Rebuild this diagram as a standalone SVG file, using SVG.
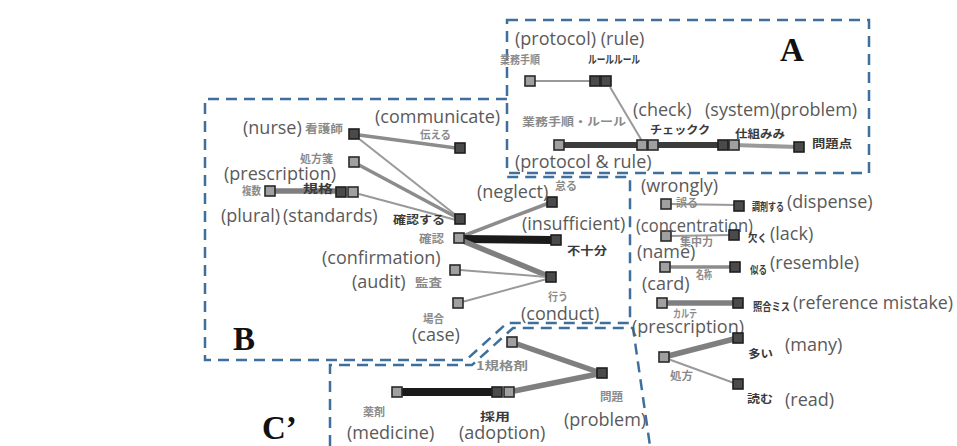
<svg xmlns="http://www.w3.org/2000/svg" width="957" height="446" viewBox="0 0 957 446">
<style>
.box{fill:none;stroke:#3f6f9d;stroke-width:2.5;stroke-dasharray:11 7}
.en{font-family:"Open Sans","Noto Sans",sans-serif;font-size:18px;fill:#5a5a5a}
.jp{font-family:"Noto Sans CJK JP",sans-serif;font-size:11px;font-weight:bold;fill:#8a8a8a}
.jpd{font-family:"Noto Sans CJK JP",sans-serif;font-size:11px;font-weight:bold;fill:#3a3a3a}
.big{font-family:"Liberation Serif",serif;font-size:33px;font-weight:bold;fill:#111}
.nl{fill:#a0a0a0;stroke:#2a2a2a;stroke-width:1.6}
.nd{fill:#4a4a4a;stroke:#1e1e1e;stroke-width:1.6}
.e1{stroke:#999;stroke-width:2;fill:none}
.e2{stroke:#8c8c8c;stroke-width:3.5;fill:none}
.e3{stroke:#7f7f7f;stroke-width:5.5;fill:none}
.eb{stroke:#1a1a1a;stroke-width:8;fill:none}
.ea{stroke:#3c3c3c;stroke-width:6;fill:none}
</style>
<rect width="957" height="446" fill="#fff"/>
<g id="regions">
<rect class="box" x="507" y="20" width="362" height="153"/>
<path class="box" d="M507,99 H205 V360 H466 L507,323 H630 V177 H507"/>
<path class="box" d="M330,446 V365 H472 L513,328 H633 L650,446"/>
<text class="big" x="780" y="61">A</text>
<text class="big" x="233" y="350">B</text>
<text class="big" x="262" y="439">C’</text>
</g>
<g id="connectors">
<line class="e1" x1="535" y1="81" x2="591" y2="81"/>
<line class="e1" x1="610" y1="87" x2="642" y2="141"/>
<line class="ea" x1="559" y1="145" x2="734" y2="145"/>
<line stroke="#9a9a9a" stroke-width="4" x1="734" y1="145" x2="798" y2="147"/>
<line class="e2" x1="359" y1="135" x2="456" y2="148"/>
<line class="e1" x1="358" y1="138" x2="457" y2="216"/>
<line class="e2" x1="359" y1="165" x2="456" y2="217"/>
<line class="e3" x1="275" y1="191" x2="337" y2="191"/>
<line class="e1" x1="359" y1="194" x2="456" y2="220"/>
<line class="e2" x1="463" y1="236" x2="549" y2="203"/>
<line class="eb" x1="463" y1="239" x2="552" y2="240"/>
<line class="e3" x1="463" y1="241" x2="548" y2="276"/>
<line class="e1" x1="460" y1="270" x2="547" y2="277"/>
<line class="e1" x1="462" y1="302" x2="547" y2="279"/>
<line class="e3" x1="517" y1="344" x2="598" y2="372"/>
<line class="eb" x1="400" y1="392" x2="494" y2="392"/>
<line class="e3" x1="514" y1="391" x2="598" y2="374"/>
<line class="e1" x1="670" y1="204" x2="736" y2="205"/>
<line class="e1" x1="670" y1="236" x2="731" y2="235"/>
<line class="e2" x1="669" y1="267" x2="731" y2="267"/>
<line class="e3" x1="667" y1="303" x2="734" y2="303"/>
<line class="e3" x1="668" y1="356" x2="734" y2="339"/>
<line class="e1" x1="668" y1="359" x2="734" y2="383"/>
</g>
<g id="n-gyomu"><rect class="nl" x="525" y="76" width="10" height="10"/><text class="jp" x="500" y="64" textLength="40" lengthAdjust="spacingAndGlyphs">業務手順</text></g>
<g id="n-rule"><rect class="nd" x="590" y="76" width="10" height="10"/><rect class="nd" x="601" y="76" width="10" height="10"/><text class="jpd" x="588" y="64" textLength="52" lengthAdjust="spacingAndGlyphs">ルールルール</text></g>
<g id="n-gyomurule"><rect class="nl" x="554" y="140" width="10" height="10"/><text class="jp" x="522" y="126" textLength="104" lengthAdjust="spacingAndGlyphs">業務手順・ルール</text></g>
<g id="n-check"><rect class="nl" x="637" y="140" width="10" height="10"/><rect class="nl" x="648" y="140" width="10" height="10"/><text class="jpd" x="650" y="134" textLength="60" lengthAdjust="spacingAndGlyphs">チェックク</text></g>
<g id="n-system"><rect class="nd" x="718" y="140" width="10" height="10"/><rect class="nl" x="729" y="140" width="10" height="10"/><text class="jpd" x="735" y="138" textLength="50" lengthAdjust="spacingAndGlyphs">仕組みみ</text></g>
<g id="n-mondaiten"><rect class="nd" x="794" y="142" width="10" height="10"/><text class="jpd" x="812" y="148" textLength="40" lengthAdjust="spacingAndGlyphs">問題点</text></g>
<g id="lbl-A">
<text class="en" x="515" y="45">(protocol) (rule)</text>
<text class="en" x="633" y="116">(check)</text>
<text class="en" x="705" y="116">(system)(problem)</text>
<text class="en" x="515" y="168">(protocol &amp; rule)</text>
</g>
<g id="n-nurse"><rect class="nd" x="349" y="129" width="10" height="10"/><text class="jp" x="305" y="133" textLength="38" lengthAdjust="spacingAndGlyphs">看護師</text><text class="en" x="243" y="134">(nurse)</text></g>
<g id="n-tsutaeru"><rect class="nd" x="455" y="143" width="10" height="10"/><text class="jp" x="420" y="139" textLength="31" lengthAdjust="spacingAndGlyphs">伝える</text><text class="en" x="375" y="123">(communicate)</text></g>
<g id="n-shohousen"><rect class="nl" x="349" y="157" width="10" height="10"/><text class="jp" x="300" y="163" textLength="33" lengthAdjust="spacingAndGlyphs">処方箋</text><text class="en" x="224" y="180">(prescription)</text></g>
<g id="n-fukusu"><rect class="nl" x="265" y="186" width="10" height="10"/><text class="jp" x="242" y="195" textLength="19" lengthAdjust="spacingAndGlyphs">複数</text><text class="en" x="221" y="222">(plural)</text></g>
<g id="n-kikaku"><rect class="nd" x="336" y="187" width="10" height="10"/><rect class="nl" x="348" y="187" width="10" height="10"/><text class="jpd" x="303" y="193" textLength="30" lengthAdjust="spacingAndGlyphs">規格</text><text class="en" x="283" y="222">(standards)</text></g>
<g id="n-kakuninsuru"><rect class="nd" x="455" y="214" width="10" height="10"/><text class="jpd" x="393" y="224" textLength="52" lengthAdjust="spacingAndGlyphs">確認する</text></g>
<g id="n-kakunin"><rect class="nl" x="454" y="233" width="10" height="10"/><text class="jp" x="419" y="243" textLength="25" lengthAdjust="spacingAndGlyphs">確認</text><text class="en" x="322" y="264">(confirmation)</text></g>
<g id="n-okotaru"><rect class="nd" x="547" y="197" width="10" height="10"/><text class="jp" x="555" y="190" textLength="22" lengthAdjust="spacingAndGlyphs">怠る</text><text class="en" x="477" y="198">(neglect)</text></g>
<g id="n-fujubun"><rect class="nd" x="551" y="235" width="10" height="10"/><text class="jpd" x="567" y="255" textLength="40" lengthAdjust="spacingAndGlyphs">不十分</text><text class="en" x="522" y="230">(insufficient)</text></g>
<g id="n-kansa"><rect class="nl" x="450" y="265" width="10" height="10"/><text class="jp" x="415" y="287" textLength="27" lengthAdjust="spacingAndGlyphs">監査</text><text class="en" x="352" y="288">(audit)</text></g>
<g id="n-baai"><rect class="nl" x="453" y="298" width="10" height="10"/><text class="jp" x="423" y="323" textLength="21" lengthAdjust="spacingAndGlyphs">場合</text><text class="en" x="412" y="341">(case)</text></g>
<g id="n-okonau"><rect class="nd" x="546" y="272" width="10" height="10"/><text class="jp" x="548" y="301" textLength="20" lengthAdjust="spacingAndGlyphs">行う</text><text class="en" x="521" y="320">(conduct)</text></g>
<g id="n-1kikaku"><rect class="nl" x="507" y="337" width="10" height="10"/><text class="jp" x="476" y="370" textLength="52" lengthAdjust="spacingAndGlyphs">1規格剤</text></g>
<g id="n-mondai"><rect class="nd" x="597" y="368" width="10" height="10"/><text class="jp" x="600" y="401" textLength="23" lengthAdjust="spacingAndGlyphs">問題</text><text class="en" x="564" y="426">(problem)</text></g>
<g id="n-yakuzai"><rect class="nl" x="392" y="387" width="10" height="10"/><text class="jp" x="363" y="416" textLength="22" lengthAdjust="spacingAndGlyphs">薬剤</text><text class="en" x="347" y="439">(medicine)</text></g>
<g id="n-saiyou"><rect class="nd" x="492" y="387" width="10" height="10"/><rect class="nl" x="504" y="387" width="10" height="10"/><text class="jpd" x="480" y="421" textLength="30" lengthAdjust="spacingAndGlyphs">採用</text><text class="en" x="459" y="439">(adoption)</text></g>
<g id="n-ayamaru"><rect class="nl" x="661" y="199" width="10" height="10"/><text class="jp" x="676" y="207" textLength="22" lengthAdjust="spacingAndGlyphs">誤る</text><text class="en" x="641" y="192">(wrongly)</text></g>
<g id="n-chouzai"><rect class="nd" x="734" y="201" width="10" height="10"/><text class="jpd" x="752" y="211" textLength="32" lengthAdjust="spacingAndGlyphs">調剤する</text><text class="en" x="787" y="208">(dispense)</text></g>
<g id="n-shuchu"><rect class="nl" x="661" y="231" width="10" height="10"/><text class="jp" x="680" y="246" textLength="33" lengthAdjust="spacingAndGlyphs">集中力</text><text class="en" x="636" y="232" textLength="117" lengthAdjust="spacingAndGlyphs">(concentration)</text></g>
<g id="n-kaku"><rect class="nd" x="729" y="230" width="10" height="10"/><text class="jpd" x="748" y="242" textLength="19" lengthAdjust="spacingAndGlyphs">欠く</text><text class="en" x="770" y="240">(lack)</text></g>
<g id="n-meisho"><rect class="nl" x="660" y="262" width="10" height="10"/><text class="jp" x="696" y="279" textLength="16" lengthAdjust="spacingAndGlyphs">名称</text><text class="en" x="637" y="258">(name)</text></g>
<g id="n-niru"><rect class="nd" x="730" y="262" width="10" height="10"/><text class="jpd" x="750" y="274" textLength="17" lengthAdjust="spacingAndGlyphs">似る</text><text class="en" x="770" y="269">(resemble)</text></g>
<g id="n-karte"><rect class="nl" x="657" y="298" width="10" height="10"/><text class="jp" x="673" y="318" textLength="24" lengthAdjust="spacingAndGlyphs">カルテ</text><text class="en" x="642" y="290">(card)</text></g>
<g id="n-shougou"><rect class="nd" x="733" y="298" width="10" height="10"/><text class="jpd" x="753" y="311" textLength="37" lengthAdjust="spacingAndGlyphs">照合ミス</text><text class="en" x="793" y="309" textLength="160" lengthAdjust="spacingAndGlyphs">(reference mistake)</text></g>
<g id="n-shohou"><rect class="nl" x="659" y="352" width="10" height="10"/><text class="jp" x="670" y="380" textLength="23" lengthAdjust="spacingAndGlyphs">処方</text><text class="en" x="632" y="333">(prescription)</text></g>
<g id="n-ooi"><rect class="nd" x="733" y="333" width="10" height="10"/><text class="jpd" x="748" y="358" textLength="25" lengthAdjust="spacingAndGlyphs">多い</text><text class="en" x="785" y="351">(many)</text></g>
<g id="n-yomu"><rect class="nd" x="733" y="379" width="10" height="10"/><text class="jpd" x="747" y="403" textLength="26" lengthAdjust="spacingAndGlyphs">読む</text><text class="en" x="785" y="406">(read)</text></g>
</svg>
